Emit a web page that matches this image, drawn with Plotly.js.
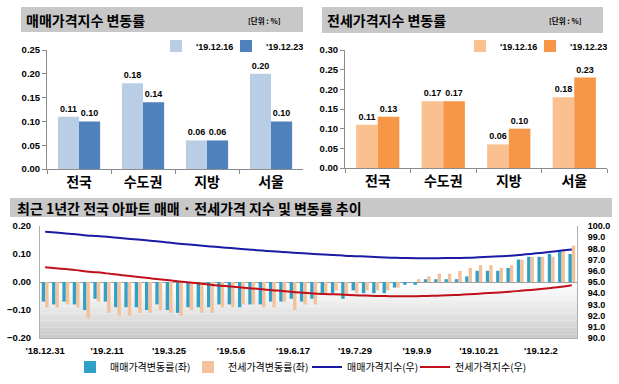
<!DOCTYPE html>
<html><head><meta charset="utf-8">
<script src="https://cdn.plot.ly/plotly-3.0.1.min.js"></script>
<style>html,body{margin:0;padding:0;background:#fff}#c{width:619px;height:384px}</style>
</head><body><div id="c"></div>
<script>
// ---- top panels ----
const regions = ['전국','수도권','지방','서울'];
const periodNames = ["'19.12.16", "'19.12.23"];
const saleChg1216 = [0.11, 0.18, 0.06, 0.20];
const saleChg1223 = [0.10, 0.14, 0.06, 0.10];
const jeonseChg1216 = [0.11, 0.17, 0.06, 0.18];
const jeonseChg1223 = [0.13, 0.17, 0.10, 0.23];

// ---- bottom panel (weekly) ----
const weeks = ["'18.12.31","'19.1.7","'19.1.14","'19.1.21","'19.1.28","'19.2.4","'19.2.11","'19.2.18","'19.2.25","'19.3.4","'19.3.11","'19.3.18","'19.3.25","'19.4.1","'19.4.8","'19.4.15","'19.4.22","'19.4.29","'19.5.6","'19.5.13","'19.5.20","'19.5.27","'19.6.3","'19.6.10","'19.6.17","'19.6.24","'19.7.1","'19.7.8","'19.7.15","'19.7.22","'19.7.29","'19.8.5","'19.8.12","'19.8.19","'19.8.26","'19.9.2","'19.9.9","'19.9.16","'19.9.23","'19.9.30","'19.10.7","'19.10.14","'19.10.21","'19.10.28","'19.11.4","'19.11.11","'19.11.18","'19.11.25","'19.12.2","'19.12.9","'19.12.16","'19.12.23"];
const tickWeeks = ["'18.12.31","'19.2.11","'19.3.25","'19.5.6","'19.6.17","'19.7.29","'19.9.9","'19.10.21","'19.12.2"];
const saleWeekly = [-0.07,-0.08,-0.07,-0.08,-0.10,-0.06,-0.07,-0.09,-0.09,-0.09,-0.10,-0.08,-0.10,-0.11,-0.09,-0.09,-0.09,-0.08,-0.08,-0.09,-0.08,-0.08,-0.07,-0.07,-0.06,-0.07,-0.06,-0.04,-0.04,-0.06,-0.03,-0.04,-0.04,-0.04,-0.02,-0.01,-0.01,0.01,0.01,0.01,0.01,0.02,0.04,0.04,0.04,0.05,0.08,0.09,0.09,0.10,0.11,0.10];
const jeonseWeekly = [-0.09,-0.09,-0.08,-0.09,-0.13,-0.07,-0.11,-0.12,-0.12,-0.11,-0.11,-0.10,-0.11,-0.12,-0.10,-0.11,-0.11,-0.09,-0.09,-0.08,-0.08,-0.09,-0.09,-0.07,-0.10,-0.08,-0.08,-0.04,-0.03,-0.05,-0.04,-0.03,-0.03,-0.03,-0.02,0.00,0.01,0.02,0.03,0.03,0.04,0.05,0.06,0.06,0.05,0.06,0.08,0.09,0.09,0.09,0.11,0.13];
const saleIndex = [99.48,99.41,99.34,99.26,99.16,99.10,99.03,98.95,98.87,98.79,98.70,98.62,98.52,98.42,98.34,98.26,98.18,98.10,98.03,97.95,97.88,97.81,97.74,97.68,97.62,97.56,97.50,97.45,97.41,97.35,97.31,97.27,97.23,97.19,97.16,97.14,97.13,97.13,97.13,97.14,97.15,97.17,97.21,97.25,97.29,97.34,97.42,97.51,97.60,97.70,97.81,97.91];
const jeonseIndex = [96.32,96.23,96.15,96.06,95.94,95.87,95.77,95.66,95.55,95.45,95.35,95.25,95.15,95.05,94.96,94.86,94.76,94.67,94.59,94.51,94.43,94.35,94.27,94.20,94.11,94.04,93.97,93.93,93.90,93.86,93.82,93.79,93.76,93.74,93.72,93.72,93.73,93.75,93.78,93.81,93.85,93.90,93.96,94.02,94.07,94.13,94.21,94.29,94.38,94.47,94.57,94.70];
const bottomNames = ['매매가격변동률(좌)','전세가격변동률(좌)','매매가격지수(우)','전세가격지수(우)'];

const FONT = 'Liberation Sans, Arial, Noto Sans CJK KR, sans-serif';
const KFONT = 'Noto Sans CJK KR, Liberation Sans, sans-serif';
const W = 619, H = 384;
const px = v => v / W, py = v => 1 - v / H;
const fmt = a => a.map(v => v.toFixed(2));

const lblFont = {family: FONT, size: 9, color: '#000', weight: 'bold'};

const traces = [
  {type:'bar', x:regions, y:saleChg1216, name:periodNames[0], marker:{color:'#b9cde5'}, xaxis:'x', yaxis:'y', legend:'legend',
   text:fmt(saleChg1216), textposition:'outside', textfont:lblFont, cliponaxis:false, constraintext:'none'},
  {type:'bar', x:regions, y:saleChg1223, name:periodNames[1], marker:{color:'#4f81bd'}, xaxis:'x', yaxis:'y', legend:'legend2',
   text:fmt(saleChg1223), textposition:'outside', textfont:lblFont, cliponaxis:false, constraintext:'none'},
  {type:'bar', x:regions, y:jeonseChg1216, name:periodNames[0], marker:{color:'#fac090'}, xaxis:'x2', yaxis:'y2', legend:'legend3',
   text:fmt(jeonseChg1216), textposition:'outside', textfont:lblFont, cliponaxis:false, constraintext:'none'},
  {type:'bar', x:regions, y:jeonseChg1223, name:periodNames[1], marker:{color:'#f79646'}, xaxis:'x2', yaxis:'y2', legend:'legend4',
   text:fmt(jeonseChg1223), textposition:'outside', textfont:lblFont, cliponaxis:false, constraintext:'none'},
  {type:'bar', x:weeks, y:saleWeekly, name:bottomNames[0], marker:{color:'#2fa0c6'}, xaxis:'x3', yaxis:'y3', legend:'legend5'},
  {type:'bar', x:weeks, y:jeonseWeekly, name:bottomNames[1], marker:{color:'#f3c29c'}, xaxis:'x3', yaxis:'y3', legend:'legend6'},
  {type:'scatter', mode:'lines', x:weeks, y:saleIndex, name:bottomNames[2], line:{color:'#1a1aa6', width:2, shape:'spline'}, xaxis:'x3', yaxis:'y4', legend:'legend7'},
  {type:'scatter', mode:'lines', x:weeks, y:jeonseIndex, name:bottomNames[3], line:{color:'#c0101a', width:2, shape:'spline'}, xaxis:'x3', yaxis:'y4', legend:'legend8'}
];

const tickF = {family: FONT, size: 9.5, color: '#000', weight: 'bold'};
const tickFR = {family: FONT, size: 9, color: '#000', weight: 'bold'};
const catF = {family: KFONT, size: 14, color: '#000', weight: 'bold'};
const axLine = '#8c8c8c';

const shapes = [
  {type:'rect', xref:'paper', yref:'paper', x0:px(21), x1:px(303), y0:py(32), y1:py(7), fillcolor:'#c8c8c8', line:{width:0}},
  {type:'rect', xref:'paper', yref:'paper', x0:px(322), x1:px(603), y0:py(33), y1:py(7), fillcolor:'#c8c8c8', line:{width:0}},
  {type:'rect', xref:'paper', yref:'paper', x0:px(10), x1:px(612), y0:py(217), y1:py(198), fillcolor:'#c8c8c8', line:{width:0}}
];
// gradient backdrop in lower half of bottom panel
const steps = 16;
for (let i = 0; i < steps; i++) {
  const t = (i + 1) / steps;
  const g = Math.round(255 - 52 * Math.pow(t, 1.2));
  shapes.push({type:'rect', xref:'x3 domain', yref:'y3', x0:0, x1:1, y0:-0.2 * i / steps, y1:-0.2 * (i + 1) / steps,
    fillcolor:`rgb(${g},${g},${g})`, line:{width:0}, layer:'below'});
}

// one legend box per entry, so entries can sit where the reference puts them
const legAt = (textX, cy, font) => ({x:px(textX - 40), y:py(cy), xanchor:'left', yanchor:'middle', orientation:'h',
  bgcolor:'rgba(0,0,0,0)', borderwidth:0, itemwidth:30, font:font});
const topLegF = {family:FONT, size:9, weight:'bold', color:'#000'};
const botLegF = {family:KFONT, size:10, color:'#000'};

const layout = {
  width: W, height: H, margin:{l:0, r:0, t:0, b:0},
  paper_bgcolor:'#fff', plot_bgcolor:'rgba(0,0,0,0)',
  font:{family: FONT, color:'#000'},
  barmode:'group', bargap:0.34, bargroupgap:0,
  showlegend:true,
  xaxis:{domain:[px(47), px(303)], anchor:'y', type:'category', showline:true, linecolor:axLine, ticks:'outside', tickson:'boundaries', ticklen:4, tickcolor:axLine, tickfont:catF, automargin:false},
  yaxis:{domain:[py(169), py(50)], anchor:'x', range:[0, 0.25], dtick:0.05, tickformat:'.2f', showgrid:false, zeroline:false, showline:true, linecolor:axLine, ticks:'outside', ticklen:4, tickcolor:axLine, tickfont:tickF, automargin:false},
  xaxis2:{domain:[px(345), px(607)], anchor:'y2', type:'category', showline:true, linecolor:axLine, ticks:'outside', tickson:'boundaries', ticklen:4, tickcolor:axLine, tickfont:catF, automargin:false},
  yaxis2:{domain:[py(168), py(50)], anchor:'x2', range:[0, 0.30], dtick:0.05, tickformat:'.2f', showgrid:false, zeroline:false, showline:true, linecolor:axLine, ticks:'outside', ticklen:4, tickcolor:axLine, tickfont:tickF, automargin:false},
  xaxis3:{domain:[px(40), px(577)], anchor:'y3', type:'category', showline:true, linecolor:'#b0b0b0', ticks:'', tickmode:'array', tickvals:tickWeeks, ticktext:tickWeeks, tickfont:tickF, automargin:false, ticklabelstandoff:4},
  yaxis3:{domain:[py(338), py(226)], anchor:'x3', range:[-0.2, 0.2], dtick:0.1, tickformat:'.2f', showgrid:false, zeroline:true, zerolinecolor:'#a0a0a0', zerolinewidth:1, showline:true, linecolor:'#b0b0b0', ticks:'', tickfont:tickF, ticklabelstandoff:6, automargin:false},
  yaxis4:{overlaying:'y3', side:'right', anchor:'x3', range:[90, 100], dtick:1, tickformat:'.1f', showgrid:false, zeroline:false, showline:true, linecolor:'#b0b0b0', ticks:'', tickfont:tickFR, ticklabelstandoff:8, automargin:false},
  legend: legAt(196, 46, topLegF),
  legend2: legAt(266, 46, topLegF),
  legend3: legAt(500, 46, topLegF),
  legend4: legAt(570, 46, topLegF),
  legend5: legAt(110, 367, botLegF),
  legend6: legAt(228, 367, botLegF),
  legend7: legAt(347, 367, botLegF),
  legend8: legAt(455, 367, botLegF),
  shapes: shapes,
  annotations:[
    {xref:'paper', yref:'paper', x:px(24), y:py(20), xanchor:'left', yanchor:'middle', showarrow:false, text:'매매가격지수 변동률', font:{family:KFONT, size:14, weight:'bold', color:'#000'}},
    {xref:'paper', yref:'paper', x:px(283), y:py(20), xanchor:'right', yanchor:'middle', showarrow:false, text:'[단위 : %]', font:{family:KFONT, size:7.5, weight:'bold', color:'#000'}},
    {xref:'paper', yref:'paper', x:px(325), y:py(20), xanchor:'left', yanchor:'middle', showarrow:false, text:'전세가격지수 변동률', font:{family:KFONT, size:14, weight:'bold', color:'#000'}},
    {xref:'paper', yref:'paper', x:px(584), y:py(20), xanchor:'right', yanchor:'middle', showarrow:false, text:'[단위 : %]', font:{family:KFONT, size:7.5, weight:'bold', color:'#000'}},
    {xref:'paper', yref:'paper', x:px(15), y:py(207.5), xanchor:'left', yanchor:'middle', showarrow:false, text:'최근 1년간 전국 아파트 매매 · 전세가격 지수 및 변동률 추이', font:{family:KFONT, size:14, weight:'bold', color:'#000'}}
  ]
};

Plotly.newPlot('c', traces, layout, {staticPlot:true, displayModeBar:false});
</script>
</body></html>
